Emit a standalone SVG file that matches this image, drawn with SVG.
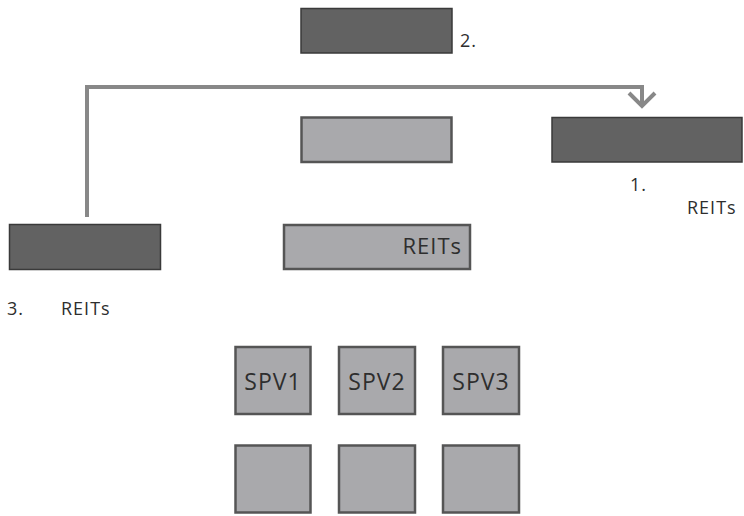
<svg xmlns="http://www.w3.org/2000/svg" width="744" height="516" viewBox="0 0 744 516">
<style>
.dark{fill:#626262;stroke:#3a3a3a;stroke-width:1.5}
.light{fill:#a9a9ac;stroke:#555;stroke-width:2.5}
text{font-family:"Open Sans","Noto Sans",sans-serif;fill:#2e2e2e}
.t{font-size:18px;letter-spacing:1px}
.spv{font-size:23px;letter-spacing:1px;text-anchor:middle}
</style>
<defs>
<marker id="chev" viewBox="0 0 20 20" refX="10" refY="10" markerWidth="20" markerHeight="20" markerUnits="userSpaceOnUse" orient="auto" overflow="visible">
<polyline points="-3,-3 10,10 -3,23" fill="none" stroke="#888" stroke-width="4"/>
</marker>
</defs>
<rect width="744" height="516" fill="#fff"/>
<g id="connectors">
<path d="M87,217 V87 H642 V106" fill="none" stroke="#888" stroke-width="4" marker-end="url(#chev)"/>
</g>
<g id="node-top"><rect class="dark" x="301" y="8.5" width="151" height="44.5"/><text class="t" x="460" y="47">2.</text></g>
<g id="node-right"><rect class="dark" x="552" y="117.5" width="190" height="44.5"/><text class="t" x="630" y="191">1.</text><text class="t" x="687" y="214">REITs</text></g>
<g id="node-left"><rect class="dark" x="9.5" y="224.5" width="151" height="45"/><text class="t" x="7" y="315">3.</text><text class="t" x="61" y="315">REITs</text></g>
<g id="node-mid"><rect class="light" x="301.5" y="117.5" width="150" height="44.5"/></g>
<g id="node-reits"><rect class="light" x="284" y="225" width="186" height="44"/><text x="462" y="254" font-size="22" letter-spacing="1" text-anchor="end">REITs</text></g>
<g id="node-spv1"><rect class="light" x="235.5" y="347" width="75" height="67"/><text class="spv" x="273" y="390">SPV1</text></g>
<g id="node-spv2"><rect class="light" x="339" y="347" width="76" height="67"/><text class="spv" x="377" y="390">SPV2</text></g>
<g id="node-spv3"><rect class="light" x="443" y="347" width="76" height="67"/><text class="spv" x="481" y="390">SPV3</text></g>
<g id="node-b1"><rect class="light" x="235.5" y="445.5" width="75" height="67"/></g>
<g id="node-b2"><rect class="light" x="339" y="445.5" width="76" height="67"/></g>
<g id="node-b3"><rect class="light" x="443" y="445.5" width="76" height="67"/></g>
</svg>
